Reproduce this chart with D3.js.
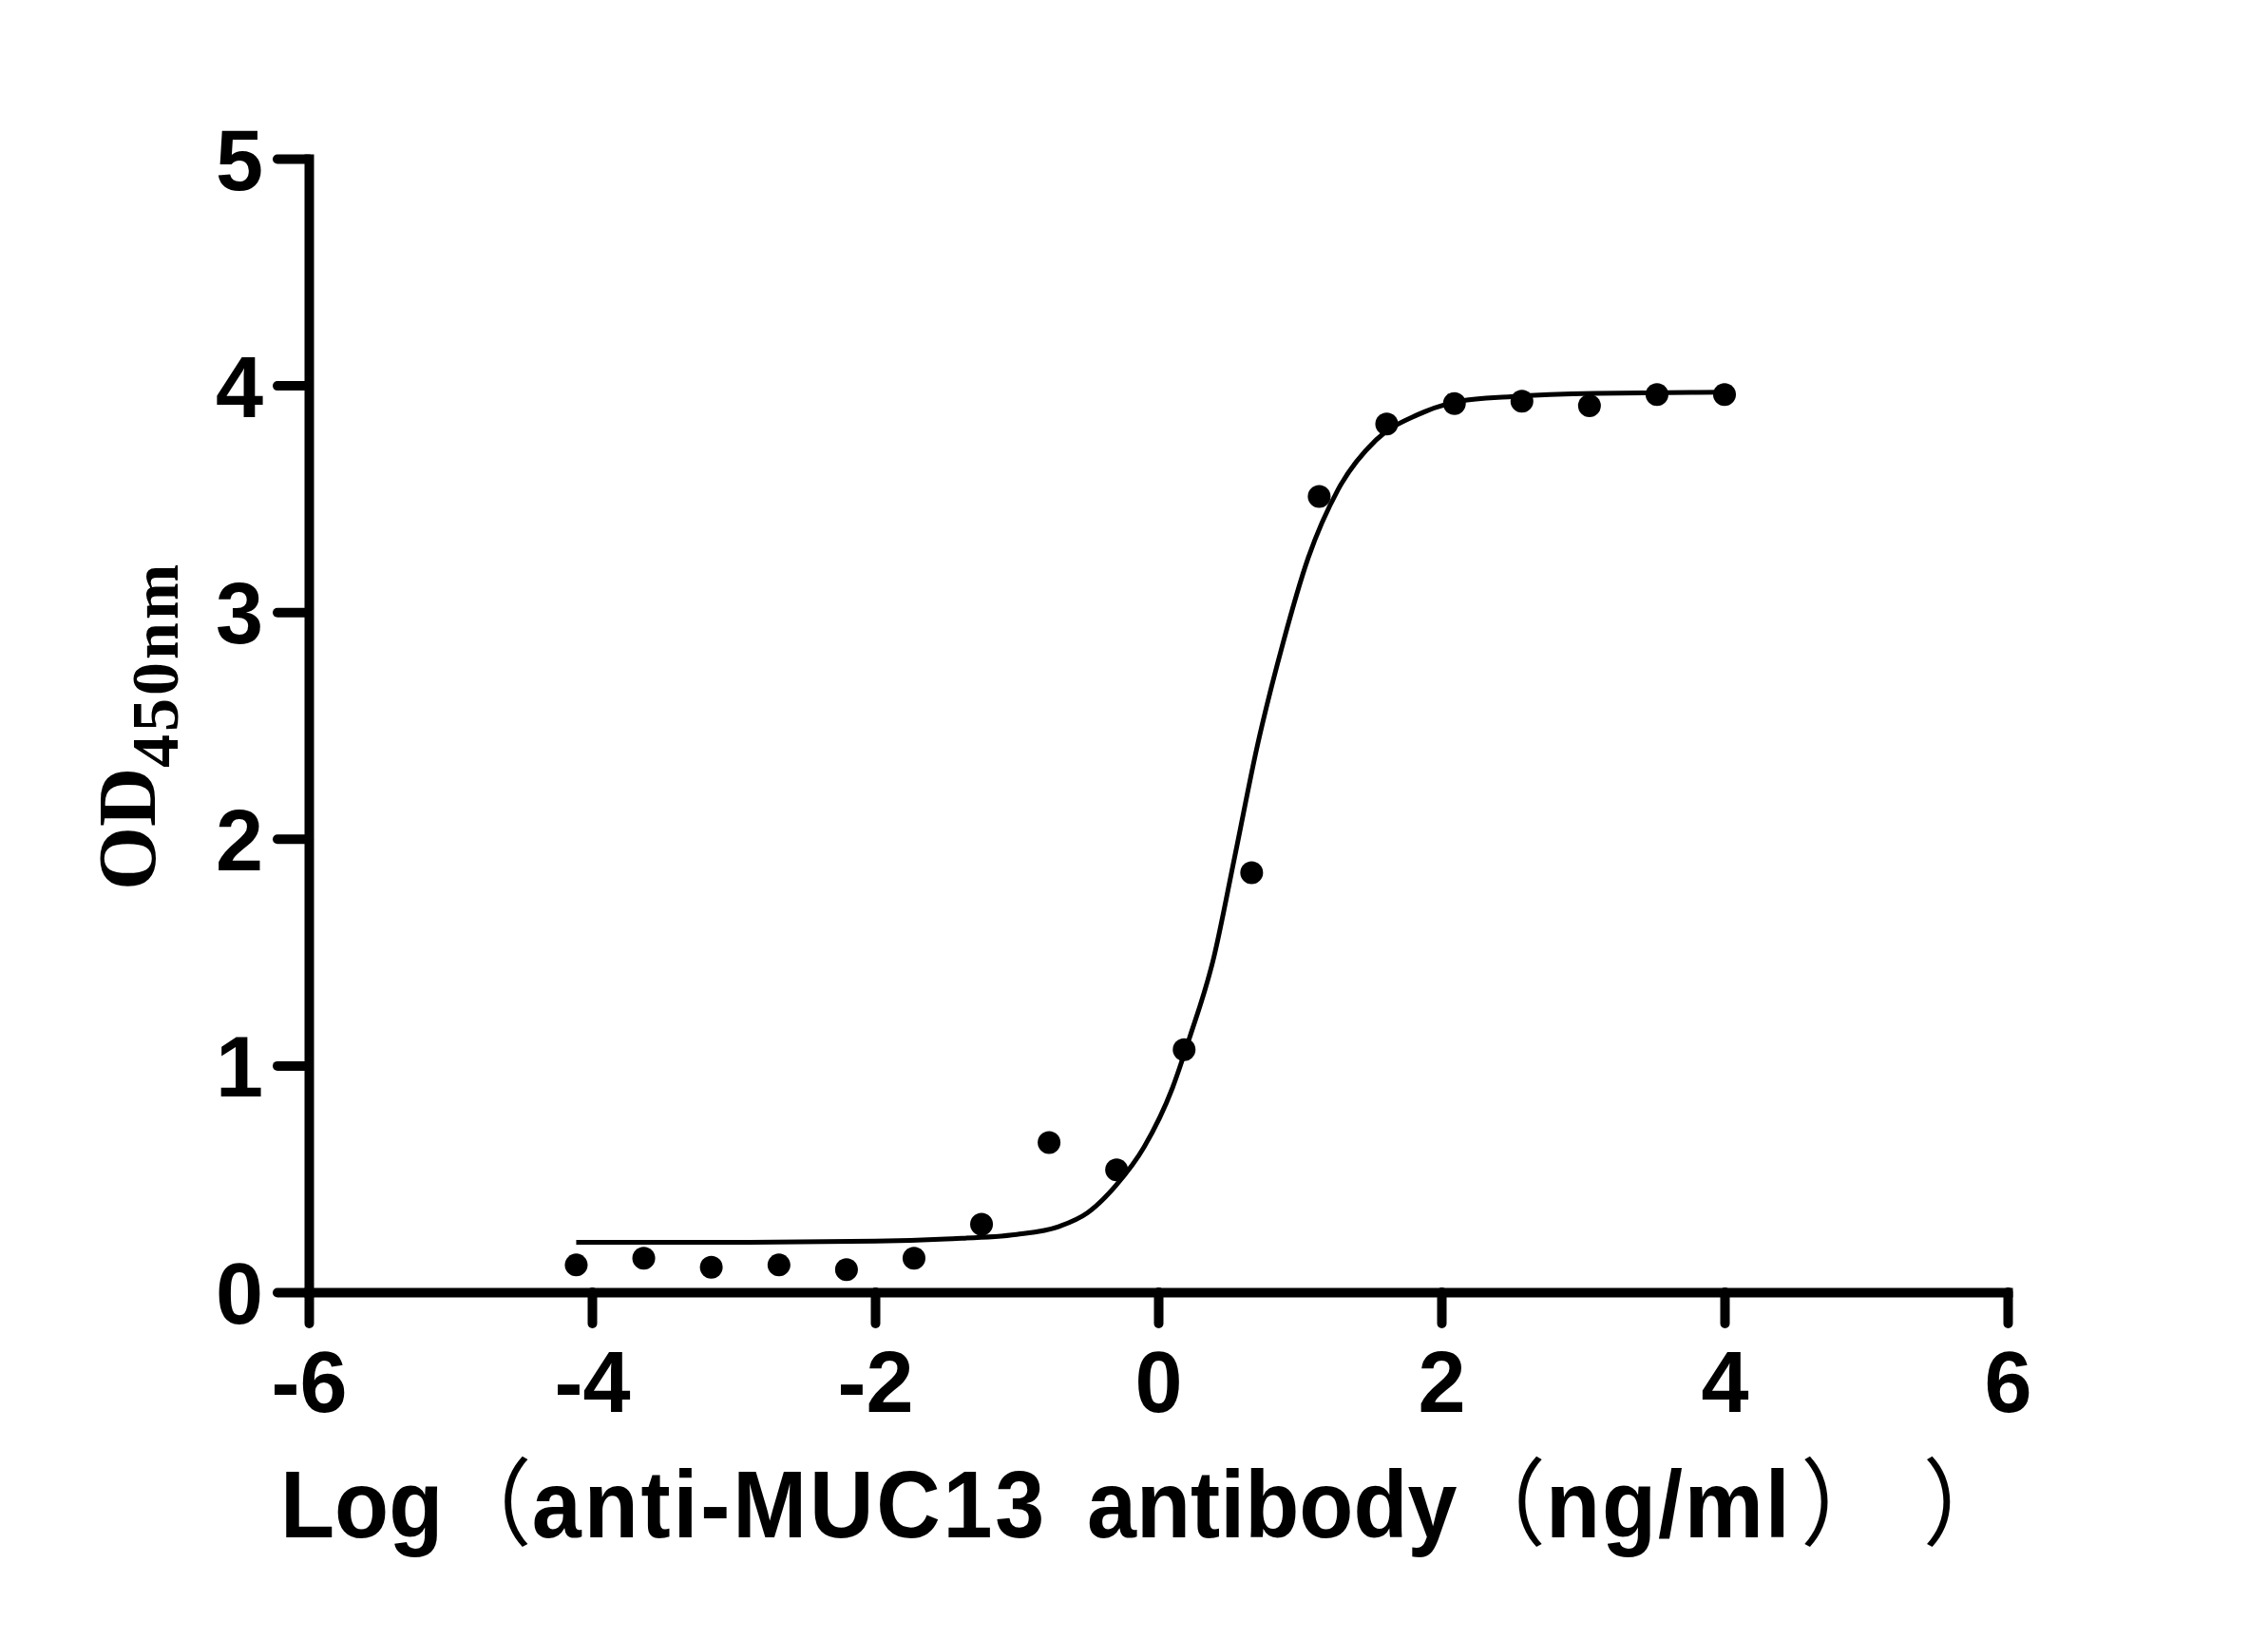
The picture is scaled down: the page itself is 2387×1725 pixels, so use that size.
<!DOCTYPE html>
<html>
<head>
<meta charset="utf-8">
<title>MUC13 antibody ELISA</title>
<script src="https://d3js.org/d3.v7.min.js"></script>
<style>
    body { margin: 0; background: #fff; }
    svg { display: block; background: #fff; }
    .tick text { font-family: "Liberation Sans", Arial, sans-serif; font-weight: bold; font-size: 90px; fill: #000; }
</style>
</head>
<body>
<svg id="chart" width="2387" height="1725"></svg>
<script>
    // measured points: log10 concentration (ng/ml) vs OD450
    const logConc = [-4.111, -3.634, -3.157, -2.679, -2.202, -1.725, -1.248, -0.771, -0.294,
                     0.183, 0.660, 1.137, 1.614, 2.092, 2.569, 3.046, 3.523, 4.0];
    const od450 = [0.12, 0.15, 0.11, 0.12, 0.10, 0.15, 0.30, 0.66, 0.54,
                   1.07, 1.85, 3.51, 3.83, 3.92, 3.93, 3.91, 3.96, 3.96];

    // fitted curve
    const fitX = [-4.111, -3.0, -2.0, -1.5, -1.0, -0.7, -0.5, -0.3, -0.1, 0.1, 0.22, 0.39,
                  0.54, 0.70, 0.88, 1.06, 1.27, 1.54, 1.83, 2.13, 2.49, 3.09, 4.0];
    const fitY = [0.22, 0.22, 0.225, 0.235, 0.255, 0.29, 0.35, 0.47, 0.64, 0.9, 1.12, 1.47,
                  1.92, 2.41, 2.86, 3.24, 3.54, 3.76, 3.87, 3.93, 3.95, 3.965, 3.97];

    const xTicks = [-6, -4, -2, 0, 2, 4, 6];
    const yTicks = [0, 1, 2, 3, 4, 5];

    const svg = d3.select("#chart");

    const x = d3.scaleLinear([-6, 6], [325, 2113]);
    const y = d3.scaleLinear([0, 5], [1360, 167]);

    // axes
    const xAxis = svg.append("g")
        .attr("transform", "translate(0," + y(0) + ")")
        .call(d3.axisBottom(x).tickValues(xTicks).tickSize(33).tickSizeOuter(0).tickPadding(29)
              .tickFormat(d => String(d)));

    const yAxis = svg.append("g")
        .attr("transform", "translate(" + x(-6) + ",0)")
        .call(d3.axisLeft(y).tickValues(yTicks).tickSize(33).tickSizeOuter(0).tickPadding(15)
              .tickFormat(d => String(d)));

    svg.selectAll(".domain")
        .attr("stroke", "#000")
        .attr("stroke-width", 10)
        .attr("stroke-linecap", "square");
    svg.selectAll(".tick line")
        .attr("stroke", "#000")
        .attr("stroke-width", 10)
        .attr("stroke-linecap", "round");
    yAxis.selectAll(".tick text").attr("dy", "0.36em");

    // fitted curve
    const line = d3.line()
        .x((d, i) => x(d))
        .y((d, i) => y(fitY[i]))
        .curve(d3.curveMonotoneX);

    svg.append("path")
        .datum(fitX)
        .attr("d", line)
        .attr("fill", "none")
        .attr("stroke", "#000")
        .attr("stroke-width", 5);

    // points
    svg.append("g")
        .selectAll("circle")
        .data(logConc)
        .join("circle")
        .attr("cx", d => x(d))
        .attr("cy", (d, i) => y(od450[i]))
        .attr("r", 12)
        .attr("fill", "#000");

    // y label
    const yLab = svg.append("text")
        .attr("transform", "translate(163,937) rotate(-90)")
        .attr("font-family", "'Liberation Serif', 'Times New Roman', serif")
        .attr("font-weight", "bold")
        .attr("font-size", 86)
        .attr("fill", "#000");
    yLab.append("tspan").text("OD");
    yLab.append("tspan").attr("font-size", 70).attr("dy", 24).attr("letter-spacing", 3).text("450nm");

    // x label
    const cjk = "'Noto Sans CJK SC', sans-serif";
    const latin = "'Liberation Sans', Arial, sans-serif";
    const xLab = svg.append("text")
        .attr("transform", "translate(295,1618) scale(0.935,1)")
        .attr("font-size", 100)
        .attr("fill", "#000");
    const parts = [
        {t: "Log", f: latin, w: "bold"},
        {t: "（", f: cjk, w: "normal"},
        {t: "anti-MUC13", f: latin, w: "bold", ls: 3},
        {t: "antibody", f: latin, w: "bold", x: 908},
        {t: "（", f: cjk, w: "normal"},
        {t: "ng/ml", f: latin, w: "bold", ls: 2},
        {t: "）", f: cjk, w: "normal", dx: 10},
        {t: "）", f: cjk, w: "normal", x: 1849}
    ];
    parts.forEach(p => {
        const ts = xLab.append("tspan")
            .attr("font-family", p.f)
            .attr("font-weight", p.w)
            .text(p.t);
        if (p.x !== undefined) ts.attr("x", p.x);
        if (p.dx) ts.attr("dx", p.dx);
        if (p.ls) ts.attr("letter-spacing", p.ls);
    });
</script>
</body>
</html>
